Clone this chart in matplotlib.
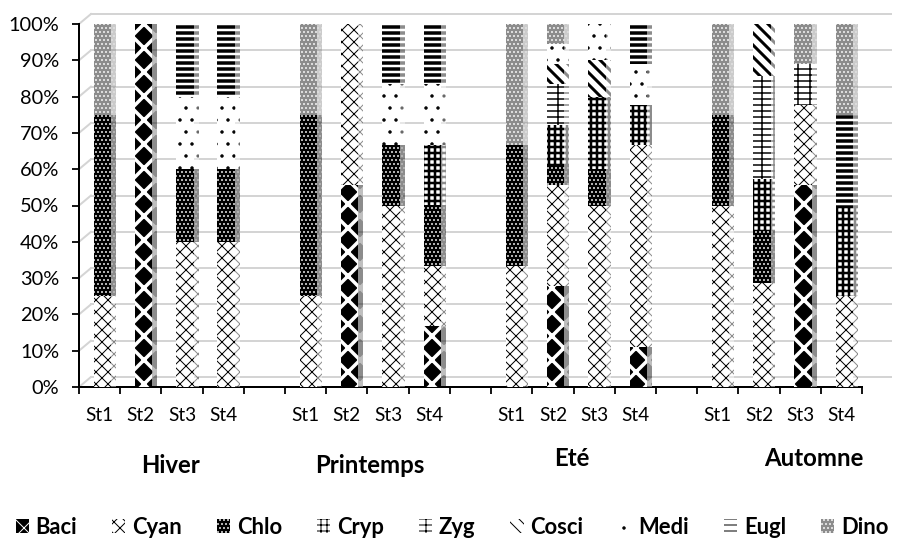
import matplotlib

matplotlib.use("Agg")
import matplotlib.pyplot as plt
from matplotlib.patches import Patch

seasons = ["Hiver", "Printemps", "Eté", "Automne"]
stations = ["St1", "St2", "St3", "St4"]
groups = ["Baci", "Cyan", "Chlo", "Cryp", "Zyg", "Cosci", "Medi", "Eugl", "Dino"]

# relative abundance (%) : Hiver St1..St4 | Printemps | Eté | Automne
baci = [0, 100, 0, 0, 0, 55.6, 0, 16.7, 0, 27.8, 0, 11.1, 0, 0, 55.6, 0]
cyan = [25, 0, 40, 40, 25, 44.4, 50, 16.7, 33.3, 27.8, 50, 55.6, 50, 28.6, 22.2, 25]
chlo = [50, 0, 20, 20, 50, 0, 16.7, 16.7, 33.3, 5.6, 10, 0, 25, 14.3, 0, 0]
cryp = [0, 0, 0, 0, 0, 0, 0, 16.7, 0, 11.1, 20, 11.1, 0, 14.3, 0, 25]
zyg = [0, 0, 0, 0, 0, 0, 0, 0, 0, 11.1, 0, 0, 0, 28.6, 11.1, 0]
cosci = [0, 0, 0, 0, 0, 0, 0, 0, 0, 5.6, 10, 0, 0, 14.3, 0, 0]
medi = [0, 0, 20, 20, 0, 0, 16.7, 16.7, 0, 5.6, 10, 11.1, 0, 0, 0, 0]
eugl = [0, 0, 20, 20, 0, 0, 16.7, 16.7, 0, 0, 0, 11.1, 0, 0, 0, 25]
dino = [25, 0, 0, 0, 25, 0, 0, 0, 33.3, 5.6, 0, 0, 25, 0, 11.1, 25]
series = [baci, cyan, chlo, cryp, zyg, cosci, medi, eugl, dino]

# facecolor, hatch colour, hatch, hatch linewidth
styles = {
    "Baci": ("black", "white", "x", 3.5),
    "Cyan": ("white", "black", "xx", 1.0),
    "Chlo": ("black", "white", "...", 1.0),
    "Cryp": ("white", "black", "++", 2.5),
    "Zyg": ("white", "black", "-+", 1.5),
    "Cosci": ("white", "black", "\\\\", 3.0),
    "Medi": ("white", "black", ".", 1.0),
    "Eugl": ("white", "black", "--", 3.5),
    "Dino": ("#8c8c8c", "white", "...", 1.0),
}

plt.rcParams["font.family"] = ["Lato", "DejaVu Sans"]
fig = plt.figure(figsize=(904 / 72, 544 / 72), dpi=72)
ax = fig.add_axes([79 / 904, 157 / 544, 783 / 904, 363 / 544])

slot_x = [s * 5 + k for s in range(len(seasons)) for k in range(len(stations))]
front_w, side_w, shift = 0.42, 0.12, 0.07


def styled(fn, *args, name, **kw):
    fc, hc, hatch, hlw = styles[name]
    with plt.rc_context({"hatch.linewidth": hlw}):
        out = fn(*args, facecolor=fc, edgecolor=hc, hatch=hatch, linewidth=0, **kw)
    return out


bottom = [0.0] * len(slot_x)
for name, vals in zip(groups, series):
    styled(ax.bar, [x + shift for x in slot_x], vals, name=name,
           width=front_w, bottom=bottom, zorder=3)
    styled(ax.bar, [x + shift + (front_w + side_w) / 2 for x in slot_x], vals,
           name=name, width=side_w, bottom=bottom, zorder=3, alpha=0.45)
    bottom = [b + v for b, v in zip(bottom, vals)]

# back-wall gridlines (pseudo 3D)
dx, dy, x_end = 0.29, 2.75, 19.2
for v in range(0, 101, 10):
    ax.plot([-0.5, -0.5 + dx], [v, v + dy], color="#d4d4d4", lw=2, clip_on=False, zorder=1)
    ax.plot([-0.5 + dx, x_end], [v + dy, v + dy], color="#d4d4d4", lw=2, clip_on=False, zorder=1)

ax.set_xlim(-0.5, 18.5)
ax.set_ylim(0, 100)
ax.set_yticks(range(0, 101, 10))
ax.set_yticklabels([f"{v}%" for v in range(0, 101, 10)], fontsize=20)
ax.set_xticks(slot_x)
ax.set_xticklabels(stations * len(seasons), fontsize=19)
ax.set_xticks([x - 0.5 for x in range(20)], minor=True)
ax.tick_params(axis="x", which="major", length=0, pad=20)
ax.tick_params(axis="x", which="minor", length=7, width=1.8, direction="out")
ax.tick_params(axis="y", length=7, width=1.8, pad=13)
for side_name in ("top", "right"):
    ax.spines[side_name].set_visible(False)
for side_name in ("left", "bottom"):
    ax.spines[side_name].set_linewidth(2)
ax.set_facecolor("none")

season_x = [1.71, 6.56, 11.47, 17.32]
season_y = [-0.215, -0.215, -0.197, -0.197]
for label, sx, sy in zip(seasons, season_x, season_y):
    ax.text(sx, sy, label, transform=ax.get_xaxis_transform(), ha="center", va="center",
            fontsize=24, fontweight="bold")

handles = [styled(Patch, name=g) for g in groups]
fig.legend(handles, groups, ncol=9, loc="center", bbox_to_anchor=(0.5, 1 - 527 / 544),
           frameon=False, handlelength=0.6, handleheight=0.6, handletextpad=0.3,
           columnspacing=1.6, prop={"size": 22, "weight": "bold"})

fig.savefig("out.png", dpi=72)
